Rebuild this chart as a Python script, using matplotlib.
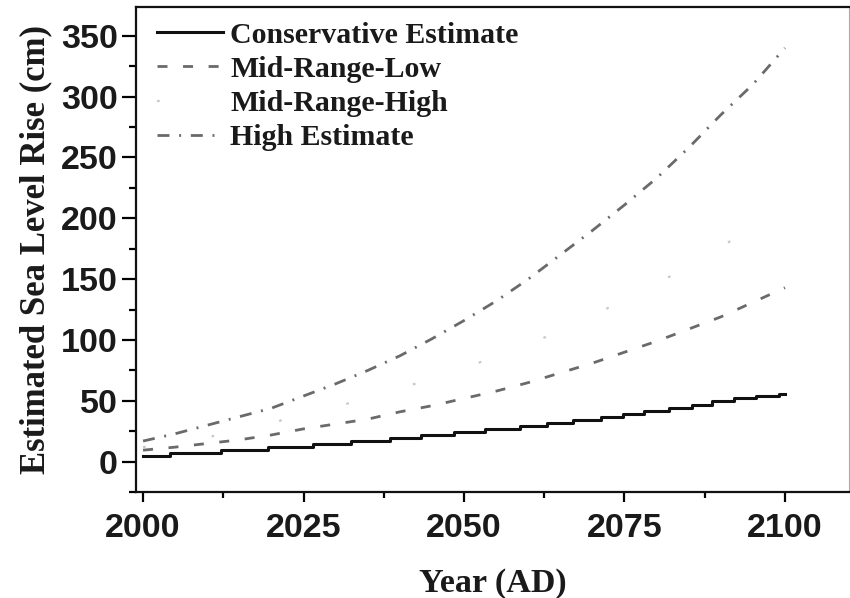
import matplotlib
matplotlib.use("Agg")
import matplotlib.pyplot as plt
from matplotlib.ticker import MultipleLocator

# ---- data ----
cons_years = [2000, 2004.2, 2012.2, 2019.5, 2026.5, 2032.4, 2038.4, 2043.3, 2048.5,
              2053.2, 2058.8, 2063.0, 2067.0, 2071.3, 2074.7, 2078.0, 2081.9, 2085.5,
              2088.6, 2092.0, 2095.5, 2099.0, 2100.0]
cons_vals = [4.5, 7, 9.5, 12, 14.5, 17, 19.5, 22, 24.5, 27, 29.5, 32, 34.5, 37, 39.5,
             42, 44.5, 47, 49.5, 52, 54, 56, 56]

years = [2000, 2005, 2010, 2015, 2020, 2025, 2030, 2035, 2040, 2045, 2050,
         2055, 2060, 2065, 2070, 2075, 2080, 2085, 2090, 2095, 2100]
mid_low = [9.5, 12, 15, 18, 22, 27, 31, 35, 41, 46, 52, 58, 65, 73, 81, 90, 99, 109, 119, 131, 143]
high = [17, 23, 30, 37, 44, 54, 64, 75, 87, 101, 116, 132, 150, 170, 190, 211, 233, 258, 285, 310, 340]

mh_years = [2000, 2010, 2020, 2030, 2040, 2050, 2060, 2070, 2080, 2090, 2100]
mid_high = [12, 20, 32, 45, 60, 77, 96, 120, 146, 176, 212]

labels = ["Conservative Estimate", "Mid-Range-Low", "Mid-Range-High", "High Estimate"]
x_ticks = [2000, 2025, 2050, 2075, 2100]
y_ticks = [0, 50, 100, 150, 200, 250, 300, 350]

# ---- figure ----
fig = plt.figure(figsize=(8.5, 5.98), dpi=100)
ax = fig.add_axes([0.160, 0.177, 0.839, 0.812])

ax.plot(cons_years, cons_vals, drawstyle="steps-post", color="#111111", lw=2.2,
        label=labels[0], zorder=4)
ax.plot(years, mid_low, color="#6a6a6a", lw=2.0, dashes=(3.6, 5.6), label=labels[1], zorder=3)
ax.plot(mh_years, mid_high, color="#c8c8c8", lw=1.6, dashes=(1.2, 30), label=labels[2], zorder=2)
ax.plot(years, high, color="#6a6a6a", lw=2.0, dashes=(4.3, 3.5, 0.7, 3.5), label=labels[3], zorder=3)

ax.set_xlim(1998.9, 2110)
ax.set_ylim(-25, 374)
ax.set_xticks(x_ticks)
ax.set_yticks(y_ticks)
ax.xaxis.set_minor_locator(MultipleLocator(12.5))
ax.yaxis.set_minor_locator(MultipleLocator(25))

for s in ["left", "bottom", "top"]:
    ax.spines[s].set_linewidth(1.6)
    ax.spines[s].set_color("#111111")
ax.spines["right"].set_linewidth(0.8)
ax.spines["right"].set_color("#aaaaaa")

ax.tick_params(axis="y", which="major", direction="out", length=10, width=1.6, pad=3,
               right=False)
ax.tick_params(axis="y", which="minor", direction="out", length=5, width=1.6, right=False)
ax.tick_params(axis="x", which="major", direction="out", length=7, width=1.6, pad=8,
               top=False)
ax.tick_params(axis="x", which="minor", direction="out", length=4, width=1.6, top=False)

for lab in ax.get_xticklabels() + ax.get_yticklabels():
    lab.set_fontfamily("Liberation Sans")
    lab.set_fontweight("bold")
    lab.set_fontsize(24.5)
    lab.set_color("#1a1a1a")

ax.set_xlabel("Year (AD)", fontfamily="Liberation Serif", fontweight="bold",
              fontsize=24.5, labelpad=17, color="#1a1a1a")
ax.set_ylabel("Estimated Sea Level Rise (cm)", fontfamily="Liberation Serif",
              fontweight="bold", fontsize=25, labelpad=6, color="#1a1a1a")

leg = ax.legend(loc="upper left", bbox_to_anchor=(0.0, 1.012), frameon=False,
                prop={"family": "Liberation Serif", "weight": "bold", "size": 21.5},
                handlelength=2.2, handletextpad=0.25, labelspacing=0.24,
                borderaxespad=0.3)
for t in leg.get_texts():
    t.set_color("#1a1a1a")

fig.savefig("out.png", dpi=100, facecolor="white")
